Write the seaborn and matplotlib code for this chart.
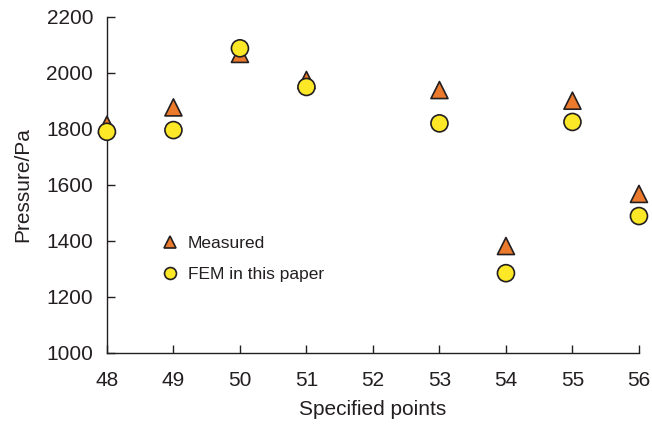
import matplotlib
matplotlib.use("Agg")
import matplotlib.pyplot as plt
import seaborn as sns
import pandas as pd

points = [48, 49, 50, 51, 53, 54, 55, 56]
measured = [1815, 1877, 2068, 1975, 1939, 1382, 1901, 1568]
fem = [1790, 1796, 2088, 1950, 1820, 1285, 1825, 1489]
x_ticks = [48, 49, 50, 51, 52, 53, 54, 55, 56]
y_ticks = [1000, 1200, 1400, 1600, 1800, 2000, 2200]

df = pd.DataFrame({
    "point": points * 2,
    "pressure": measured + fem,
    "series": ["Measured"] * len(points) + ["FEM in this paper"] * len(points),
})

sns.set_style("ticks")
plt.rcParams["font.family"] = ["Liberation Sans", "DejaVu Sans"]
plt.rcParams["xtick.direction"] = "in"
plt.rcParams["ytick.direction"] = "in"

fig = plt.figure(figsize=(6.52, 4.24), dpi=100)
ax = fig.add_axes([0.164, 0.1675, 0.816, 0.7925])

sns.scatterplot(
    data=df, x="point", y="pressure", hue="series", style="series",
    hue_order=["Measured", "FEM in this paper"],
    style_order=["Measured", "FEM in this paper"],
    palette={"Measured": "#EC7A2C", "FEM in this paper": "#FCE827"},
    markers={"Measured": "^", "FEM in this paper": "o"},
    s=150, edgecolor="#231F20", linewidth=1.2, ax=ax, clip_on=False, zorder=3,
)
sns.despine(ax=ax)

ax.set_xlim(48, 56)
ax.set_ylim(1000, 2200)
ax.set_xticks(x_ticks)
ax.set_yticks(y_ticks)
ax.tick_params(axis="both", which="both", direction="in", length=6, width=1,
               labelsize=15, colors="#231F20")
ax.tick_params(axis="x", pad=13)
ax.tick_params(axis="y", pad=10)
for s in ["left", "bottom"]:
    ax.spines[s].set_color("#231F20")
    ax.spines[s].set_linewidth(1)
ax.set_xlabel("Specified points", fontsize=15, color="#231F20", labelpad=7)
ax.set_ylabel("Pressure/Pa", fontsize=15, color="#231F20", labelpad=10)

leg = ax.legend(loc="center left", bbox_to_anchor=(0.085, 0.28), frameon=False,
                fontsize=12.5, handletextpad=0.05, labelspacing=0.95, markerscale=0.7,
                borderaxespad=0, borderpad=0)
for t in leg.get_texts():
    t.set_color("#231F20")

fig.savefig("out.png", dpi=100)
